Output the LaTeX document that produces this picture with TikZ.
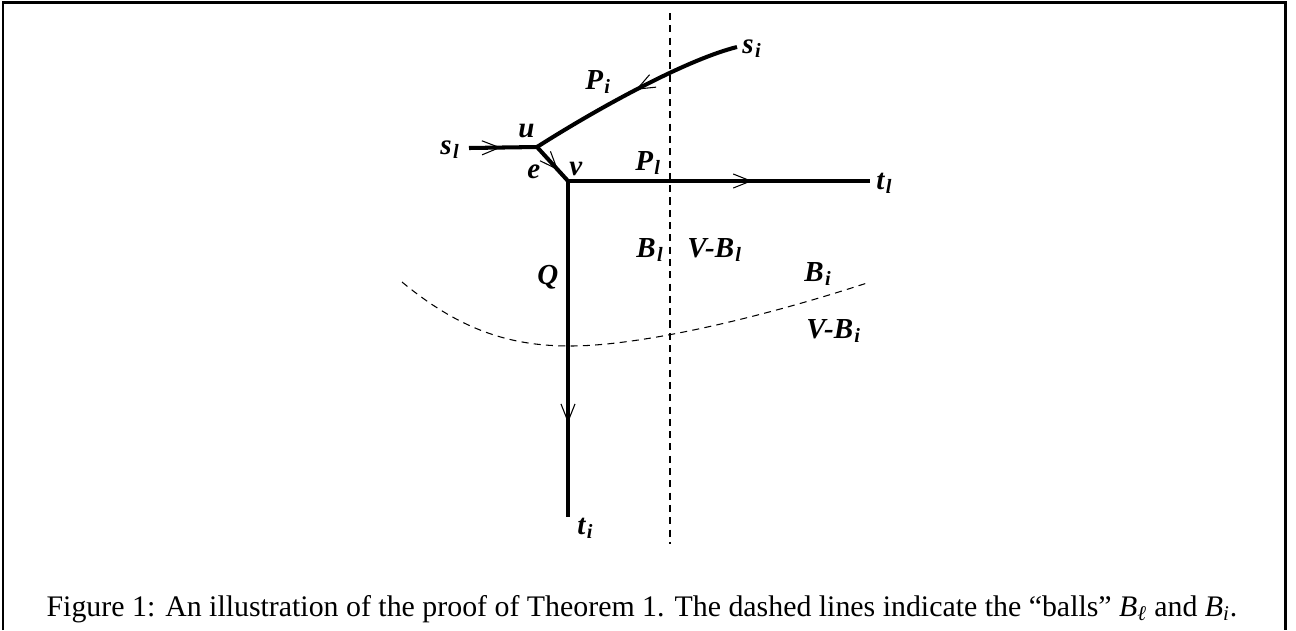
\documentclass[tikz,border=0pt]{standalone}
\usepackage{fontspec}
\setmainfont{Liberation Serif}
\usetikzlibrary{arrows.meta, decorations.markings}

\newcommand{\lab}[2]{#1\kern0.8pt\textsubscript{#2}}

\begin{document}
\begin{tikzpicture}[x=0.02cm, y=-0.02cm, font=\fontsize{17}{19}\selectfont,
    edge/.style={line width=2.3pt},
    ball/.style={line width=0.6pt, dash pattern=on 4pt off 3pt},
    lbl/.style={anchor=base west, inner sep=0pt, font=\fontsize{16.5}{18}\selectfont\bfseries\itshape},
    midarrow/.style={postaction={decorate, decoration={markings,
      mark=at position #1 with {\arrow{Straight Barb[length=10pt, width=8pt, line width=0.6pt]}}}}}]
  \useasboundingbox (0,0) rectangle (1296,630);
  % frame
  \draw[line width=1.7pt] (3,630) -- (3,2.5) -- (1285,2.5) -- (1285,630);
  % path end points
  \coordinate (sl) at (469,148);
  \coordinate (u) at (537,147);
  \coordinate (v) at (568,181);
  \coordinate (si) at (737,47);
  \coordinate (tl) at (870,181);
  \coordinate (ti) at (568,517);
  % paths P_l, P_i, Q
  \draw[edge, midarrow=0.47] (sl) -- (u);
  \draw[edge, midarrow=0.68] (u) -- (v);
  \draw[edge, midarrow=0.49] (si) .. controls (685,60) and (595,110) .. (u);
  \draw[edge, midarrow=0.61] (v) -- (tl);
  \draw[edge, midarrow=0.72] (v) -- (ti);
  % the balls
  \coordinate (btop) at (670,13);
  \coordinate (bbot) at (670,544);
  \coordinate (bil) at (402,282);
  \coordinate (bim) at (570,346);
  \coordinate (bir) at (867,283);
  \draw[ball] (btop) -- (bbot);
  \draw[ball] (bil) .. controls (460,330) and (510,346) .. (bim)
                    .. controls (640,346) and (760,318) .. (bir);
  % labels
  \node[lbl] (lsl) at (440,154) {\lab{s}{l}};
  \node[lbl] (lu) at (518,137) {u};
  \node[lbl] (le) at (527,178) {e};
  \node[lbl] (lv) at (569,175) {v};
  \node[lbl] (lpi) at (585,89) {\lab{P}{i}};
  \node[lbl] (lsi) at (742,53) {\lab{s}{i}};
  \node[lbl] (lpl) at (635,170) {\lab{P}{l}};
  \node[lbl] (ltl) at (876,189) {\lab{t}{l}};
  \node[lbl] (lti) at (577,534) {\lab{t}{i}};
  \node[lbl] (lq) at (537,284) {Q};
  \node[lbl] (lbl1) at (636,257) {\lab{B}{l}};
  \node[lbl] (lvbl) at (687,257) {V-\lab{B}{l}};
  \node[lbl] (lbi) at (804,281) {\lab{B}{i}};
  \node[lbl] (lvbi) at (806,338) {V-\lab{B}{i}};
  % caption
  \node[anchor=base, inner sep=0pt] (cap) at (642,616)
    {Figure 1: An illustration of the proof of Theorem 1. The dashed lines indicate the “balls” \textit{B}\textsubscript{\textit{ℓ}} and \textit{B}\textsubscript{\textit{i}}.};
\end{tikzpicture}
\end{document}
